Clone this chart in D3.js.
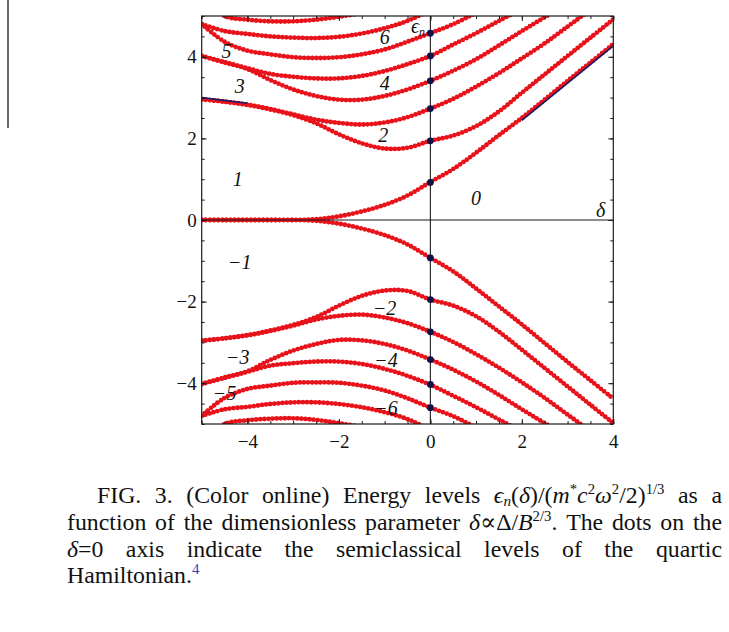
<!DOCTYPE html>
<html>
<head>
<meta charset="utf-8">
<script src="https://cdn.jsdelivr.net/npm/d3@7"></script>
<style>
  html, body { margin: 0; padding: 0; background: #ffffff; }
  svg { display: block; }
</style>
</head>
<body>
<svg id="fig" width="729" height="632"></svg>
<script>
// Sampling grid of the dimensionless parameter delta
const delta = [-5, -4.5, -4, -3.5, -3, -2.5, -2, -1.5, -1, -0.5, 0, 0.5, 1, 1.5, 2, 2.5, 3, 3.5, 4];

// Energy levels above zero (null = far outside the plotted range)
const up1 = [0, 0, 0, 0, 0, 0.02, 0.09, 0.21, 0.37, 0.6, 0.93, 1.25, 1.65, 2.08, 2.5, 2.95, 3.41, 3.86, 4.31];
const up2 = [2.96, 2.9, 2.82, 2.71, 2.57, 2.37, 2.1, 1.88, 1.75, 1.77, 1.94, 2.07, 2.3, 2.66, 3.12, 3.57, 4.02, 4.47, 4.92];
const up3 = [2.96, 2.9, 2.83, 2.72, 2.59, 2.46, 2.38, 2.34, 2.39, 2.52, 2.73, 2.97, 3.27, 3.6, 3.96, 4.33, 4.74, 5.15, 5.55];
const up4 = [4.02, 3.86, 3.7, 3.43, 3.2, 3.04, 2.95, 2.95, 3.04, 3.2, 3.41, 3.66, 3.94, 4.28, 4.63, 4.97, 5.3, 5.62, 5.95];
const up5 = [4.02, 3.87, 3.72, 3.58, 3.51, 3.47, 3.47, 3.53, 3.65, 3.82, 4.02, 4.3, 4.58, 4.88, 5.18, 5.5, null, null, null];
const up6 = [4.8, 4.37, 4.15, 4.06, 3.99, 3.97, 3.99, 4.06, 4.18, 4.37, 4.58, 4.8, 5.08, 5.4, null, null, null, null, null];
const up7 = [4.8, 4.63, 4.56, 4.5, 4.47, 4.46, 4.49, 4.57, 4.7, 4.88, 5.15, 5.45, null, null, null, null, null, null, null];
const up8 = [5.45, 5.0, 4.91, 4.87, 4.87, 4.91, 4.98, 5.08, 5.22, 5.4, null, null, null, null, null, null, null, null, null];

// Energy levels below zero
const dn1 = [0, 0, 0, 0, 0, -0.02, -0.09, -0.21, -0.37, -0.6, -0.93, -1.26, -1.68, -2.12, -2.56, -3.02, -3.48, -3.93, -4.38];
const dn2 = [-2.96, -2.9, -2.82, -2.71, -2.57, -2.38, -2.1, -1.86, -1.73, -1.74, -1.95, -2.1, -2.36, -2.74, -3.18, -3.63, -4.08, -4.53, -4.98];
const dn3 = [-2.96, -2.9, -2.83, -2.72, -2.59, -2.44, -2.35, -2.32, -2.39, -2.53, -2.74, -2.99, -3.29, -3.62, -3.98, -4.36, -4.77, -5.17, -5.57];
const dn4 = [-4.02, -3.86, -3.71, -3.43, -3.2, -3.04, -2.94, -2.95, -3.04, -3.2, -3.42, -3.67, -3.96, -4.29, -4.64, -4.98, -5.3, -5.62, -5.95];
const dn5 = [-4.02, -3.87, -3.72, -3.57, -3.51, -3.47, -3.47, -3.53, -3.65, -3.82, -4.04, -4.31, -4.59, -4.89, -5.19, -5.5, null, null, null];
const dn6 = [-4.8, -4.36, -4.14, -4.06, -3.99, -3.98, -3.99, -4.06, -4.18, -4.37, -4.6, -4.81, -5.09, -5.4, null, null, null, null, null];
const dn7 = [-4.8, -4.64, -4.58, -4.51, -4.47, -4.47, -4.51, -4.59, -4.71, -4.88, -5.15, -5.45, null, null, null, null, null, null, null];
const dn8 = [-5.45, -5.0, -4.91, -4.87, -4.86, -4.9, -4.98, -5.08, -5.22, -5.4, null, null, null, null, null, null, null, null, null];

const levels = [up1, up2, up3, up4, up5, up6, up7, up8, dn1, dn2, dn3, dn4, dn5, dn6, dn7, dn8];

// Semiclassical levels of the quartic Hamiltonian (on the delta = 0 axis)
const semiclassical = [0.92, 1.94, 2.73, 3.41, 4.02, 4.58, -0.93, -1.95, -2.74, -3.42, -4.03, -4.6];

// Asymptotes: [delta, epsilon] end points
const asymptoteLeft = [[-5, 3.0], [-4, 2.86]];
const asymptoteRight = [[2, 2.44], [4, 4.27]];
const asymptoteThin = [[2, 3.09], [4, 4.88]];

// Level numbers written inside the plot
const labelText = ["6", "5", "4", "3", "2", "1", "0", "\u22121", "\u22122", "\u22123", "\u22124", "\u22125", "\u22126"];
const labelDelta = [-1.0, -4.46, -1.0, -4.17, -1.03, -4.21, 1.0, -4.17, -1.0, -4.21, -0.97, -4.5, -0.97];
const labelEps = [4.47, 4.14, 3.35, 3.28, 2.07, 1.0, 0.53, -1.04, -2.18, -3.37, -3.45, -4.26, -4.63];

// Tick values
const xTicks = [-4, -2, 0, 2, 4];
const yTicks = [-4, -2, 0, 2, 4];
const xMinor = d3.range(-5, 4.001, 0.5);
const yMinor = d3.range(-5, 5.001, 0.5);

const svg = d3.select("#fig");
const serif = "'Liberation Serif', 'DejaVu Serif', serif";

const L = 201.7, R = 613.3, T = 16, B = 424;
const x = d3.scaleLinear().domain([-5, 4]).range([L, R]);
const y = d3.scaleLinear().domain([-5, 5]).range([B, T]);

// page edge left of the figure
svg.append("line").attr("x1", 8).attr("x2", 8).attr("y1", 0).attr("y2", 128)
  .attr("stroke", "#444").attr("stroke-width", 1.6);

svg.append("defs").append("clipPath").attr("id", "plotclip")
  .append("rect").attr("x", L).attr("y", T).attr("width", R - L).attr("height", B - T);

const plot = svg.append("g").attr("clip-path", "url(#plotclip)");

const line = d3.line()
  .defined(d => d[1] != null)
  .x(d => x(d[0]))
  .y(d => y(d[1]))
  .curve(d3.curveCatmullRom.alpha(0.5));

// thin guide under the second level
plot.append("path").datum(asymptoteThin)
  .attr("d", d3.line().x(d => x(d[0])).y(d => y(d[1])))
  .attr("fill", "none").attr("stroke", "#6a2030").attr("stroke-width", 1);

// dotted level curves
plot.selectAll("path.level").data(levels).join("path")
  .attr("class", "level")
  .attr("d", arr => line(delta.map((d, i) => [d, arr[i]])))
  .attr("fill", "none")
  .attr("stroke", "#e8121b")
  .attr("stroke-width", 4.8)
  .attr("stroke-linecap", "round")
  .attr("stroke-dasharray", "0 4.1");

// asymptote segments
[asymptoteLeft, asymptoteRight].forEach(seg => {
  plot.append("path").datum(seg)
    .attr("d", d3.line().x(d => x(d[0])).y(d => y(d[1])))
    .attr("fill", "none").attr("stroke", "#1a1a66").attr("stroke-width", 1.6);
});

// axes through the origin
svg.append("line").attr("x1", L).attr("x2", R).attr("y1", y(0)).attr("y2", y(0))
  .attr("stroke", "#1a1a1a").attr("stroke-width", 1.1);
svg.append("line").attr("x1", x(0)).attr("x2", x(0)).attr("y1", T).attr("y2", B)
  .attr("stroke", "#1a1a1a").attr("stroke-width", 1.1);

// semiclassical dots
svg.selectAll("circle.sc").data(semiclassical).join("circle")
  .attr("class", "sc")
  .attr("cx", x(0)).attr("cy", d => y(d)).attr("r", 3.4)
  .attr("fill", "#12124a");

// frame ticks (inward), major and minor
function styleAxis(g) {
  g.attr("font-family", serif).attr("font-size", 19);
  g.select(".domain").remove();
  g.selectAll("line").attr("stroke", "#1a1a1a").attr("stroke-width", 1);
  g.selectAll("text").attr("font-family", serif).attr("font-size", 19).attr("fill", "#111");
}
svg.append("g").attr("transform", `translate(${L},0)`)
  .call(d3.axisLeft(y).tickValues(yMinor).tickSize(-3).tickFormat(""))
  .call(styleAxis);
svg.append("g").attr("transform", `translate(${L},0)`)
  .call(d3.axisLeft(y).tickValues(yTicks).tickSize(-5).tickPadding(5).tickFormat(d3.format("d")))
  .call(styleAxis);
svg.append("g").attr("transform", `translate(${R},0)`)
  .call(d3.axisRight(y).tickValues(yMinor).tickSize(-3).tickFormat(""))
  .call(styleAxis);
svg.append("g").attr("transform", `translate(${R},0)`)
  .call(d3.axisRight(y).tickValues(yTicks).tickSize(-5).tickFormat(""))
  .call(styleAxis);
svg.append("g").attr("transform", `translate(0,${B})`)
  .call(d3.axisBottom(x).tickValues(xMinor).tickSize(-3).tickFormat(""))
  .call(styleAxis);
const xb = svg.append("g").attr("transform", `translate(0,${B})`)
  .call(d3.axisBottom(x).tickValues(xTicks).tickSize(-5).tickFormat(d3.format("d")))
  .call(styleAxis);
xb.selectAll("text").attr("y", 24).attr("dy", null);
svg.append("g").attr("transform", `translate(0,${T})`)
  .call(d3.axisTop(x).tickValues(xMinor).tickSize(-3).tickFormat(""))
  .call(styleAxis);
svg.append("g").attr("transform", `translate(0,${T})`)
  .call(d3.axisTop(x).tickValues(xTicks).tickSize(-5).tickFormat(""))
  .call(styleAxis);

// frame
svg.append("rect").attr("x", L).attr("y", T).attr("width", R - L).attr("height", B - T)
  .attr("fill", "none").attr("stroke", "#1a1a1a").attr("stroke-width", 1.2);

// level numbers
svg.selectAll("text.lvl").data(labelText).join("text")
  .attr("class", "lvl")
  .attr("x", (d, i) => x(labelDelta[i]))
  .attr("y", (d, i) => y(labelEps[i]) + 6.5)
  .attr("text-anchor", "middle")
  .attr("font-family", serif).attr("font-style", "italic").attr("font-size", 20)
  .attr("fill", "#111")
  .text(d => d);

// axis names
const en = svg.append("text").attr("x", 411).attr("y", 33)
  .attr("font-family", serif).attr("font-style", "italic").attr("font-size", 20).attr("fill", "#111");
en.append("tspan").text("\u03f5");
en.append("tspan").attr("y", 36).attr("font-size", 12).text("n");
svg.append("text").attr("x", 596).attr("y", 217)
  .attr("font-family", serif).attr("font-style", "italic").attr("font-size", 20).attr("fill", "#111")
  .text("\u03b4");

// caption, justified word by word
const capSize = 23.8;
const captionLines = [
  { x0: 97, x1: 722, base: 503, justify: true, words: [
    [{t: "FIG."}], [{t: "3."}], [{t: "(Color"}], [{t: "online)"}], [{t: "Energy"}], [{t: "levels"}],
    [{t: "\u03f5", i: 1}, {t: "n", i: 1, sub: 1}, {t: "("}, {t: "\u03b4", i: 1}, {t: ")/("}, {t: "m", i: 1},
     {t: "*", sup: 1}, {t: "c", i: 1}, {t: "2", sup: 1}, {t: "\u03c9", i: 1}, {t: "2", sup: 1}, {t: "/2)"}, {t: "1/3", sup: 1}],
    [{t: "as"}], [{t: "a"}]
  ]},
  { x0: 67, x1: 722, base: 530, justify: true, words: [
    [{t: "function"}], [{t: "of"}], [{t: "the"}], [{t: "dimensionless"}], [{t: "parameter"}],
    [{t: "\u03b4", i: 1}, {t: "\u221d\u0394/"}, {t: "B", i: 1}, {t: "2/3", sup: 1}, {t: "."}],
    [{t: "The"}], [{t: "dots"}], [{t: "on"}], [{t: "the"}]
  ]},
  { x0: 67, x1: 722, base: 557, justify: true, words: [
    [{t: "\u03b4", i: 1}, {t: "=0"}], [{t: "axis"}], [{t: "indicate"}], [{t: "the"}], [{t: "semiclassical"}],
    [{t: "levels"}], [{t: "of"}], [{t: "the"}], [{t: "quartic"}]
  ]},
  { x0: 67, x1: 722, base: 583, justify: false, words: [
    [{t: "Hamiltonian."}, {t: "4", sup: 1, c: "#2a3fb5"}]
  ]}
];

captionLines.forEach(ln => {
  const g = svg.append("g");
  const nodes = ln.words.map(w => {
    const t = g.append("text").attr("y", ln.base)
      .attr("font-family", serif).attr("font-size", capSize).attr("fill", "#111");
    w.forEach(s => {
      const ts = t.append("tspan").text(s.t);
      if (s.i) ts.attr("font-style", "italic");
      if (s.sup) ts.attr("font-size", capSize * 0.62).attr("y", ln.base - capSize * 0.36);
      else if (s.sub) ts.attr("font-size", capSize * 0.64).attr("y", ln.base + capSize * 0.14);
      else ts.attr("y", ln.base);
      if (s.c) ts.attr("fill", s.c);
    });
    return t;
  });
  const widths = nodes.map(n => n.node().getComputedTextLength());
  const total = d3.sum(widths);
  const gap = ln.justify && nodes.length > 1 ? (ln.x1 - ln.x0 - total) / (nodes.length - 1) : capSize * 0.25;
  let cx = ln.x0;
  nodes.forEach((n, i) => { n.attr("x", cx); cx += widths[i] + gap; });
});
</script>
</body>
</html>
